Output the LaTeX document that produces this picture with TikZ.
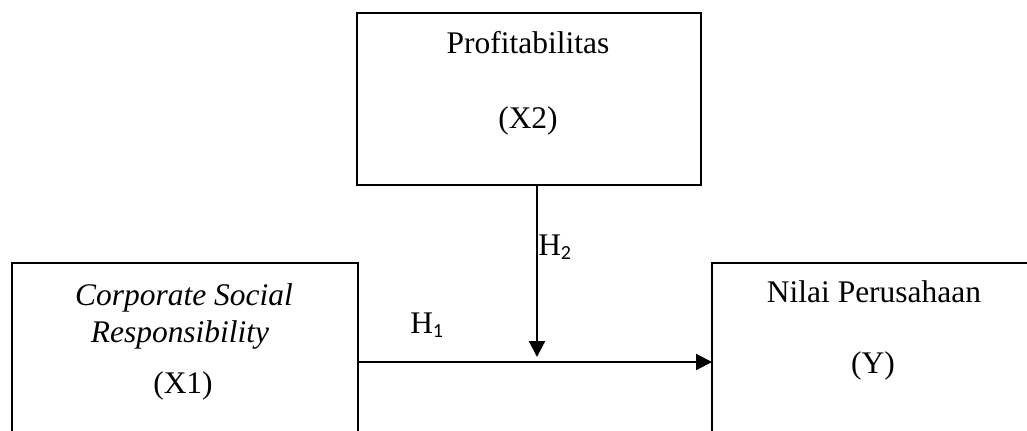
\documentclass[tikz,border=0pt]{standalone}
\usepackage{fontspec}
\setmainfont{Liberation Serif}
\newfontfamily\subfont{Carlito}
\usetikzlibrary{arrows.meta}
\begin{document}
\begin{tikzpicture}[x=0.75pt,y=-0.75pt,
  box/.style={draw=black,line width=1.5pt,inner sep=0pt,outer sep=0pt},
  lbl/.style={font=\fontsize{23.6pt}{28pt}\selectfont,inner sep=0pt,anchor=base},
  arr/.style={line width=1.6pt,-{Triangle[length=12pt,width=12pt]}}]
\useasboundingbox (0,0) rectangle (1027,430);
\clip (0,0) rectangle (1027,430);
\fill[white] (0,0) rectangle (1027,430);
% boxes
\node[box,minimum width=344*0.75pt,minimum height=172*0.75pt] (top) at (529,99) {};
\node[box,minimum width=346*0.75pt,minimum height=198*0.75pt] (left) at (185,362) {};
\node[box,minimum width=324*0.75pt,minimum height=198*0.75pt] (right) at (874,362) {};
% texts
\node[lbl] (t1) at (528,53) {Profitabilitas};
\node[lbl] (t2) at (528,128) {(X2)};
\node[lbl] (l1) at (184,305) {\itshape Corporate Social};
\node[lbl] (l2) at (180,342) {\itshape Responsibility};
\node[lbl] (l3) at (183,393) {(X1)};
\node[lbl] (r1) at (874,302) {Nilai Perusahaan};
\node[lbl] (r2) at (873,373) {(Y)};
\node[lbl,anchor=base west] (h2) at (538,255) {H\raisebox{-3pt}{\subfont\fontsize{15pt}{18pt}\selectfont 2}};
\node[lbl,anchor=base west] (h1) at (410,333) {H\raisebox{-3pt}{\subfont\fontsize{15pt}{18pt}\selectfont 1}};
% connectors
\coordinate (m) at (537,357);
\draw[arr] (left.east) -- (right.west);
\draw[arr] (top.south -| m) -- (m);
\end{tikzpicture}
\end{document}
